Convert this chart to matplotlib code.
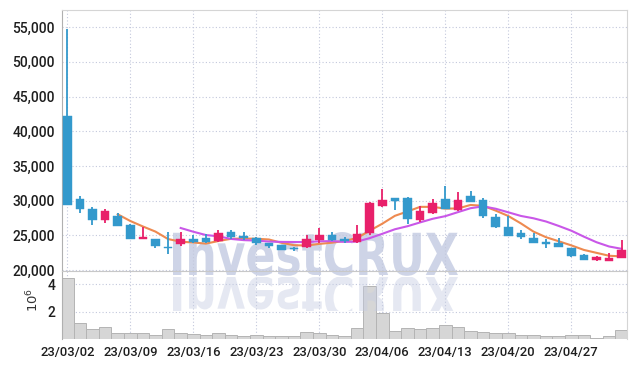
import matplotlib
matplotlib.use("Agg")
import matplotlib.pyplot as plt
import numpy as np
import pandas as pd
from matplotlib.textpath import TextPath
from matplotlib.patches import PathPatch, Rectangle
from matplotlib.font_manager import FontProperties
import matplotlib.transforms as mtransforms
from matplotlib.ticker import FuncFormatter, FixedLocator

plt.rcParams['font.family'] = ['Roboto', 'DejaVu Sans']

dates = ["23/03/02", "23/03/03", "23/03/06", "23/03/07", "23/03/08", "23/03/09", "23/03/10",
         "23/03/13", "23/03/14", "23/03/15", "23/03/16", "23/03/17", "23/03/20", "23/03/21",
         "23/03/22", "23/03/23", "23/03/24", "23/03/27", "23/03/28", "23/03/29", "23/03/30",
         "23/03/31", "23/04/03", "23/04/04", "23/04/05", "23/04/06", "23/04/07", "23/04/10",
         "23/04/11", "23/04/12", "23/04/13", "23/04/14", "23/04/17", "23/04/18", "23/04/19",
         "23/04/20", "23/04/21", "23/04/24", "23/04/25", "23/04/26", "23/04/27", "23/04/28",
         "23/05/02", "23/05/03", "23/05/04"]
opens = [42200, 30230, 28790, 27160, 27780, 26530, 24510, 24470, 23360, 23750,
         24420, 24570, 24140, 25480, 24900, 24610, 23890, 23600, 23210, 23270,
         24320, 25040, 24470, 23990, 25290, 29270, 30380, 30380, 27210, 28170,
         30230, 28650, 30660, 30090, 27640, 26200, 25330, 24610, 24080, 23890,
         23170, 22200, 21480, 21300, 21770]
highs = [54800, 30650, 29080, 28790, 28170, 26600, 26150, 24500, 25520, 25520,
         25090, 25150, 25720, 25720, 25480, 24700, 23950, 23650, 23250, 25000,
         26050, 25430, 24710, 26440, 29750, 31670, 30450, 30480, 29270, 30190,
         32100, 31200, 31340, 30450, 28030, 27830, 25720, 25380, 24420, 24570,
         23200, 22250, 22060, 22410, 24280]
lows = [29300, 28210, 26490, 26770, 26300, 24420, 24500, 23200, 22310, 23460,
        23900, 23900, 24000, 24510, 24370, 23650, 23210, 22850, 22700, 23200,
        23930, 24250, 23850, 23900, 25040, 29040, 28650, 26630, 26870, 28100,
        28800, 28500, 29800, 27450, 26100, 24850, 24510, 23850, 23170, 23250,
        21900, 21400, 21250, 21250, 21700]
closes = [29370, 28750, 27160, 28500, 26380, 24540, 24800, 23460, 23130, 24470,
          23990, 23990, 25330, 24710, 24660, 23850, 23460, 22930, 22980, 24420,
          25040, 24320, 24180, 25140, 29660, 30090, 29990, 27310, 28460, 29660,
          28830, 30090, 29840, 27850, 26200, 24940, 24760, 23930, 23790, 23310,
          21970, 21480, 21830, 21690, 22840]
volumes_m = [4.44, 1.15, 0.72, 0.86, 0.42, 0.42, 0.42, 0.28, 0.72, 0.42,
             0.35, 0.28, 0.42, 0.28, 0.20, 0.28, 0.20, 0.20, 0.20, 0.50,
             0.42, 0.28, 0.20, 0.83, 3.88, 1.88, 0.61, 0.79, 0.72, 0.79,
             1.00, 0.86, 0.57, 0.50, 0.42, 0.42, 0.28, 0.28, 0.20, 0.20,
             0.28, 0.28, 0.10, 0.20, 0.64]
price_ticks = [20000, 25000, 30000, 35000, 40000, 45000, 50000, 55000]
vol_ticks = [2, 4]
ma_windows = [5, 10]

UP = '#E8206A'
DOWN = '#3399CC'
MA_COLORS = ['#EE8A50', '#C957E8']
GRID = '#C3C8DC'
LABEL = '#1E1E1E'

W, H = 635, 366
fig = plt.figure(figsize=(W / 100, H / 100), dpi=100)
fig.patch.set_facecolor('white')

L, R = 62 / W, 627 / W
y_top, y_mid, y_bot = 10, 271, 339
ax = fig.add_axes([L, 1 - y_mid / H, R - L, (y_mid - y_top) / H], zorder=2)
axv = fig.add_axes([L, 1 - y_bot / H, R - L, (y_bot - y_mid) / H], zorder=0)
axw = fig.add_axes([0, 0, 1, 1], zorder=1)
ax.set_facecolor('none')
axw.set_facecolor('none')

n = len(dates)
idx = np.arange(n)
o = np.array(opens, float); c = np.array(closes, float)
h = np.array(highs, float); lo = np.array(lows, float)
up = c >= o
cols = np.where(up, UP, DOWN)

# wicks and bodies
ax.vlines(idx, lo, h, colors=cols, linewidth=1.3, zorder=3)
body_bottom = np.minimum(o, c)
body_h = np.maximum(np.abs(c - o), 120)
ax.bar(idx, body_h, bottom=body_bottom, width=0.68, color=cols, edgecolor=cols,
       linewidth=0.3, zorder=4)

# moving averages
cs = pd.Series(closes, dtype=float)
for wnd, col in zip(ma_windows, MA_COLORS):
    ax.plot(idx, cs.rolling(wnd).mean(), color=col, linewidth=1.5, zorder=2.5)

xlim = (-0.42, n - 1 + 0.42)
ax.set_xlim(*xlim)
ax.set_ylim(19860, 57470)
ax.yaxis.set_major_locator(FixedLocator(price_ticks))
ax.yaxis.set_major_formatter(FuncFormatter(lambda v, p: f"{int(v):,}"))
tick_pos = idx[::5]
ax.set_xticks(tick_pos)
ax.set_xticklabels([])
ax.tick_params(axis='both', length=0, labelsize=10, colors=LABEL, pad=5)
for t in ax.get_yticklabels():
    t.set_fontweight('medium')
ax.grid(True, color=GRID, linestyle=(0, (1, 2)), linewidth=0.8)
for s in ['top', 'right']:
    ax.spines[s].set_color('#D5D5D5')
ax.spines['left'].set_color('#B0B0B0')
ax.spines['bottom'].set_color('#C8C8C8')

# volume
axv.bar(idx, np.array(volumes_m), width=1.0, color='#D6D6D6', edgecolor='#B4B4B4',
        linewidth=0.7, zorder=2)
axv.set_xlim(*xlim)
axv.set_ylim(0, 4.95)
axv.set_yticks(vol_ticks)
axv.set_yticklabels([str(v) for v in vol_ticks], fontweight='medium')
axv.set_xticks(tick_pos)
axv.set_xticklabels([dates[i] for i in tick_pos], fontweight='medium')
axv.tick_params(axis='both', length=0, labelsize=10, colors=LABEL, pad=5)
axv.tick_params(axis='x', labelsize=9.4, pad=5)
axv.grid(True, color=GRID, linestyle=(0, (1, 2)), linewidth=0.8)
axv.spines['top'].set_visible(False)
axv.spines['bottom'].set_visible(False)
axv.spines['right'].set_color('#D5D5D5')
axv.spines['left'].set_color('#B0B0B0')
fig.text(33 / W, 1 - 300 / H, r'$10^6$', rotation=90, ha='center', va='center',
         fontsize=9.5, color='#333333')

# watermark with reflection
axw.set_xlim(0, W)
axw.set_ylim(H, 0)
axw.axis('off')
fp = FontProperties(family='DejaVu Sans', weight='bold')
tp = TextPath((0, 0), 'InvestCRUX', size=1, prop=fp)
ext = tp.get_extents()
x0, x1, ybase, ytopw = 173, 458, 275, 232
sx = (x1 - x0) / ext.width
sy = (ybase - ytopw) / ext.y1
tr_main = mtransforms.Affine2D().translate(-ext.x0, 0).scale(sx, -sy).translate(x0, ybase)
axw.add_patch(PathPatch(tr_main.transform_path(tp), facecolor='#C6CDE3', edgecolor='none',
                        alpha=0.85))
tr_ref = mtransforms.Affine2D().translate(-ext.x0, 0).scale(sx, sy).translate(x0, ybase + 2)
ref = PathPatch(tr_ref.transform_path(tp), facecolor='#C6CDE3', edgecolor='none', alpha=0.45)
axw.add_patch(ref)
clip = Rectangle((0, ybase + 2), W, 34, transform=axw.transData, visible=False)
axw.add_patch(clip)
ref.set_clip_path(clip)

fig.savefig('out.png', dpi=100, facecolor='white')
